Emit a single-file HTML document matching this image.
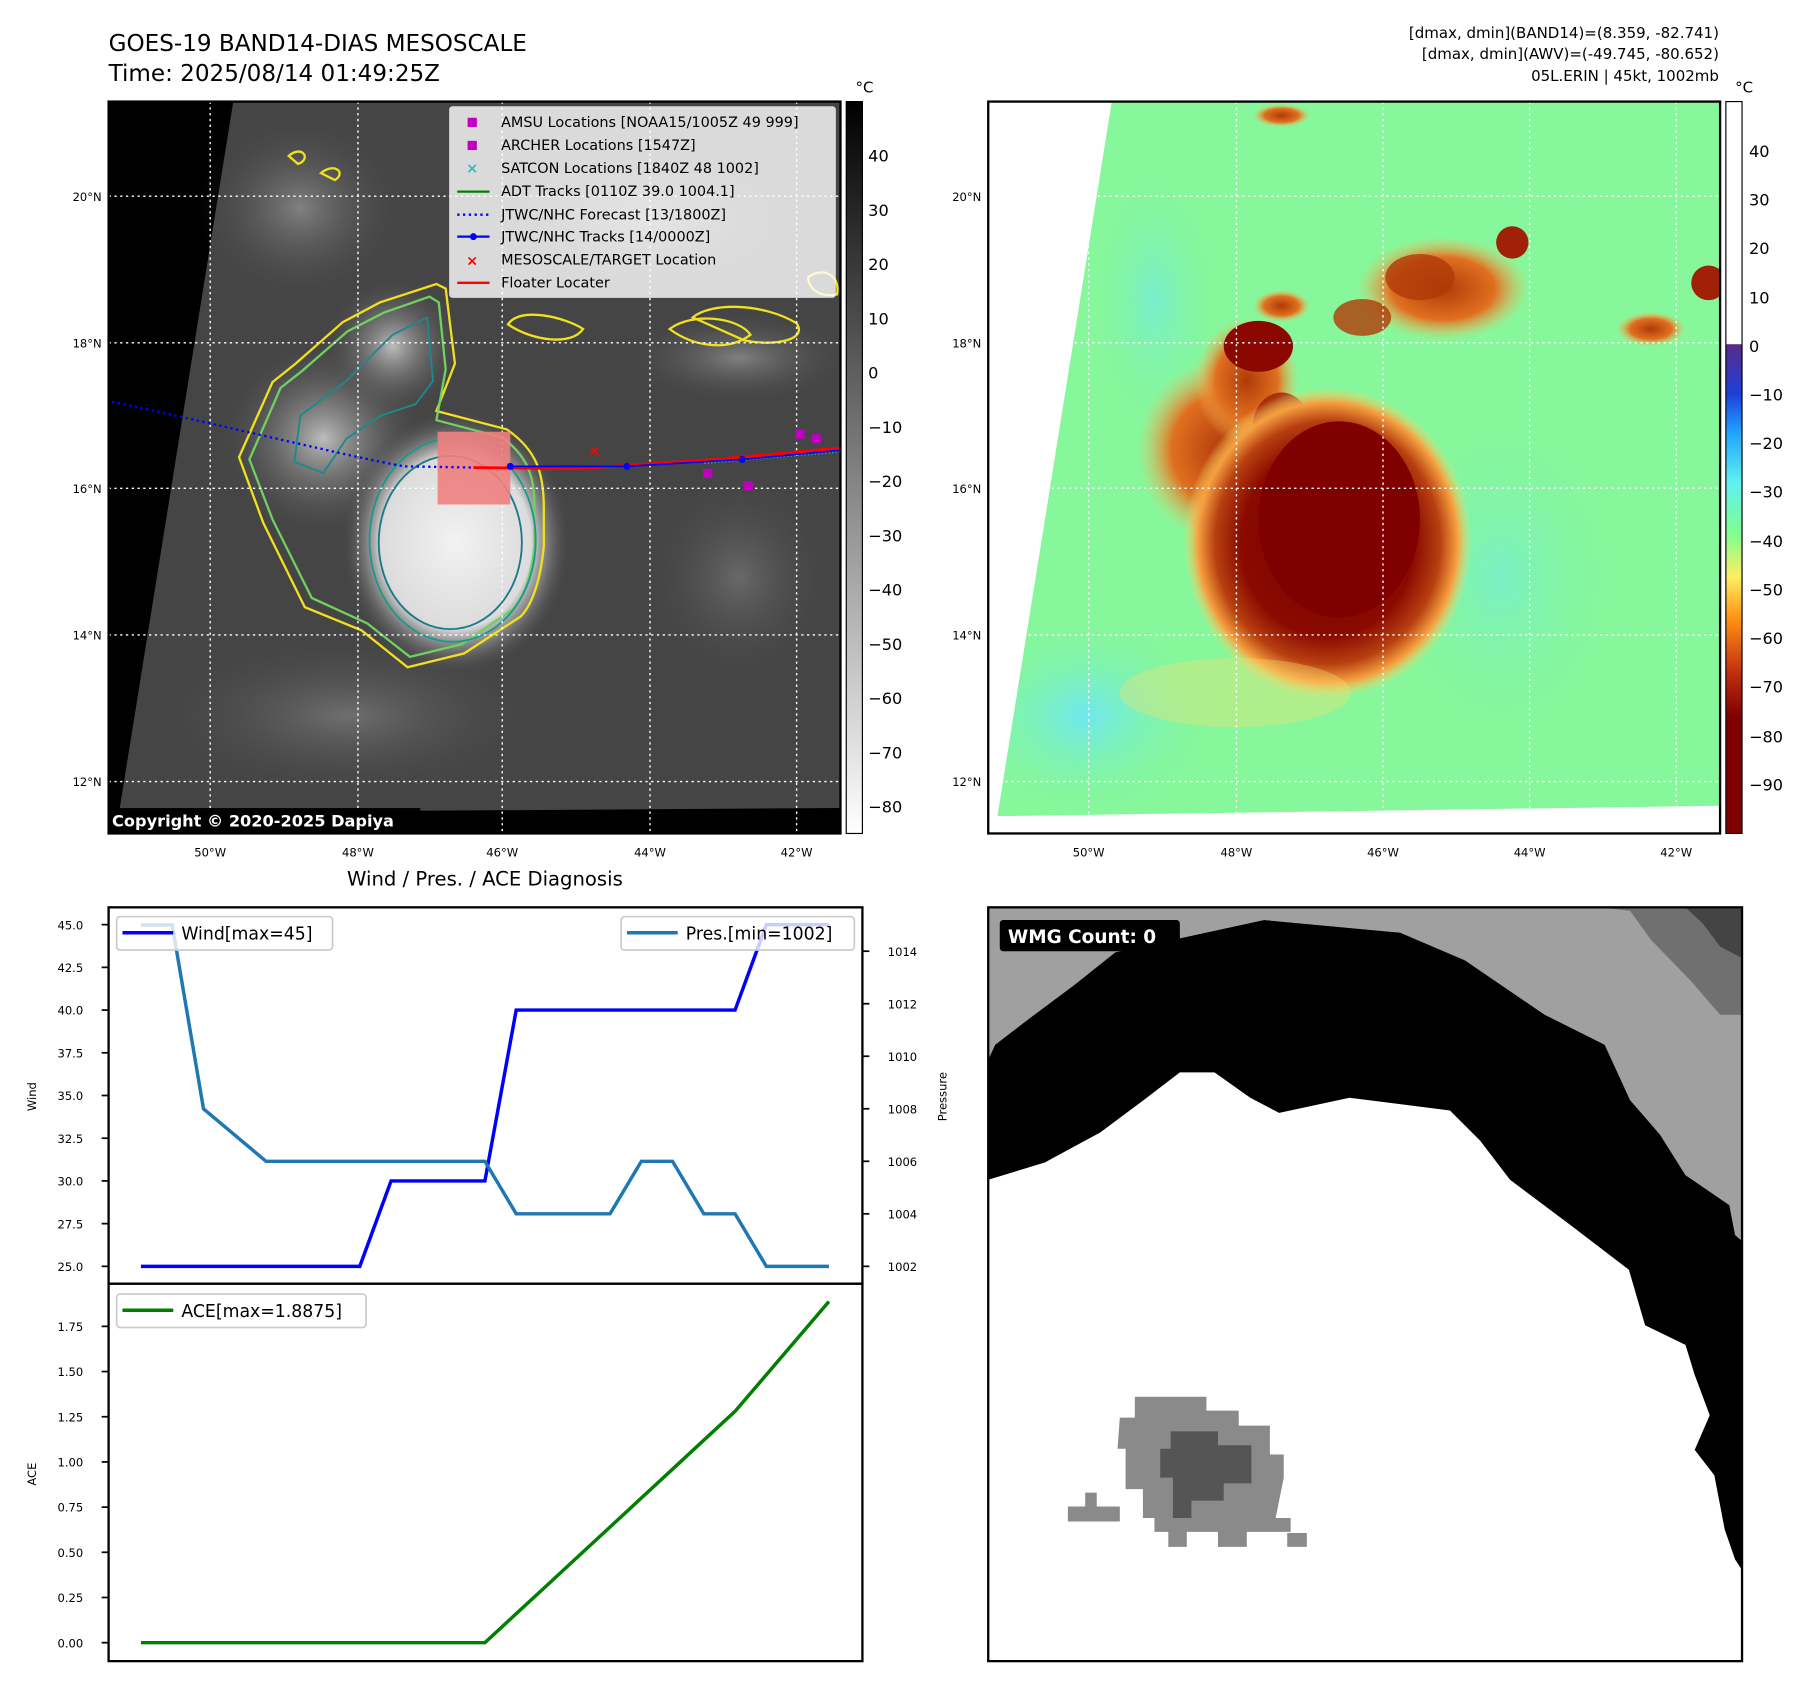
<!DOCTYPE html>
<html><head><meta charset="utf-8"><style>
html,body{margin:0;padding:0;background:#fff}
svg{display:block;font-family:"DejaVu Sans","Liberation Sans",sans-serif}
</style></head><body>
<svg id="root" width="1801" height="1690" viewBox="0 0 1560 1464" xmlns="http://www.w3.org/2000/svg">
<defs>
<linearGradient id="cbGray" x1="0" y1="0" x2="0" y2="1"><stop offset="0" stop-color="#000"/><stop offset="1" stop-color="#fff"/></linearGradient>
<linearGradient id="cbAwv" x1="0" y1="0" x2="0" y2="1">
<stop offset="0" stop-color="#fff"/><stop offset="0.331" stop-color="#fff"/><stop offset="0.332" stop-color="#5a2a8a"/>
<stop offset="0.40" stop-color="#1e40d8"/><stop offset="0.45" stop-color="#1ea0ff"/><stop offset="0.52" stop-color="#60f0f0"/>
<stop offset="0.59" stop-color="#80ff90"/><stop offset="0.65" stop-color="#ffee60"/><stop offset="0.71" stop-color="#ff8c10"/>
<stop offset="0.78" stop-color="#c03010"/><stop offset="0.84" stop-color="#800000"/><stop offset="1" stop-color="#800000"/></linearGradient>
<radialGradient id="cdo" cx="0.5" cy="0.5" r="0.5"><stop offset="0" stop-color="#f2f2f2"/><stop offset="0.65" stop-color="#dcdcdc"/><stop offset="1" stop-color="#444" stop-opacity="0"/></radialGradient>
<radialGradient id="cdoR" cx="0.5" cy="0.5" r="0.5"><stop offset="0" stop-color="#7a0000"/><stop offset="0.6" stop-color="#8a0a00"/><stop offset="0.78" stop-color="#b84010"/><stop offset="0.9" stop-color="#f5a040"/><stop offset="1" stop-color="#f8e070" stop-opacity="0"/></radialGradient>
<radialGradient id="bandR" cx="0.5" cy="0.5" r="0.5"><stop offset="0" stop-color="#b03a08"/><stop offset="0.6" stop-color="#e07020"/><stop offset="1" stop-color="#f8c060" stop-opacity="0"/></radialGradient>
<radialGradient id="bandG" cx="0.5" cy="0.5" r="0.5"><stop offset="0" stop-color="#bdbdbd"/><stop offset="1" stop-color="#4a4a4a" stop-opacity="0"/></radialGradient>
<radialGradient id="cyanG" cx="0.5" cy="0.5" r="0.5"><stop offset="0" stop-color="#6ee8f0"/><stop offset="1" stop-color="#86f79a" stop-opacity="0"/></radialGradient>
<clipPath id="clipL"><rect x="94" y="88" width="634" height="634"/></clipPath>
<clipPath id="clipR"><polygon points="963,88 1490,88 1490,698 864,707"/></clipPath>
</defs>

<!-- titles -->
<text x="94" y="44" font-size="20">GOES-19 BAND14-DIAS MESOSCALE</text>
<text x="94" y="70" font-size="20">Time: 2025/08/14 01:49:25Z</text>
<g font-size="13" text-anchor="end">
<text x="1489" y="33">[dmax, dmin](BAND14)=(8.359, -82.741)</text>
<text x="1489" y="51">[dmax, dmin](AWV)=(-49.745, -80.652)</text>
<text x="1489" y="70">05L.ERIN | 45kt, 1002mb</text>
</g>

<!-- LEFT MAP -->
<g clip-path="url(#clipL)">
<rect x="94" y="88" width="634" height="634" fill="#000"/>
<polygon points="202,88 728,88 728,700 103,704" fill="#454545"/>
<ellipse cx="260" cy="180" rx="90" ry="80" fill="url(#bandG)" opacity="0.5"/>
<ellipse cx="560" cy="190" rx="150" ry="70" fill="url(#bandG)" opacity="0.5"/>
<ellipse cx="640" cy="310" rx="100" ry="40" fill="url(#bandG)" opacity="0.5"/>
<ellipse cx="300" cy="620" rx="170" ry="70" fill="url(#bandG)" opacity="0.35"/>
<ellipse cx="640" cy="500" rx="80" ry="90" fill="url(#bandG)" opacity="0.3"/>
<ellipse cx="280" cy="380" rx="90" ry="85" fill="url(#bandG)"/>
<ellipse cx="340" cy="300" rx="60" ry="60" fill="url(#bandG)"/>
<ellipse cx="395" cy="470" rx="100" ry="115" fill="url(#cdo)"/>
<path d="M378,356 L439,372 C465,390 471,410 471,440 L471,473 C468,505 460,525 451,534 L402,566 L353,578 L313,546 L264,526 L228,453 L207,396 L236,331 L256,315 L297,279 L329,262 L378,246 L386,250 L394,315 Z" fill="none" stroke="#f0e020" stroke-width="2"/>
<path d="M378,364 L435,379 C458,396 463,414 463,440 L463,473 C460,502 452,520 444,528 L400,558 L355,569 L318,540 L270,518 L236,450 L216,398 L243,336 L262,321 L301,287 L332,271 L372,257 L380,262 L386,320 Z" fill="none" stroke="#70d060" stroke-width="2"/>
<path d="M340,290 L370,275 L375,330 L360,350 L330,360 L300,380 L280,410 L255,400 L260,360 L300,330 Z" fill="none" stroke="#1a8a8a" stroke-width="1.6"/>
<ellipse cx="390" cy="470" rx="62" ry="75" fill="none" stroke="#1a7a8a" stroke-width="1.6"/>
<ellipse cx="392" cy="468" rx="72" ry="88" fill="none" stroke="#1a9a8a" stroke-width="1.6"/>
<path d="M440,281 C450,265 490,275 505,285 C495,300 460,295 440,281 Z M580,285 C600,270 640,275 650,290 C630,305 600,300 580,285 Z M600,275 C615,262 660,262 690,280 C700,295 670,300 645,295 Z M250,135 C262,125 270,138 258,142 Z M278,150 C290,140 300,150 290,156 Z M700,240 C715,230 728,240 725,255 C710,258 700,250 700,240 Z" fill="none" stroke="#f0e020" stroke-width="2"/>
<!-- grid -->
<g stroke="#fff" stroke-dasharray="2,3" stroke-width="1.2">
<line x1="94" y1="170" x2="728" y2="170"/><line x1="94" y1="297" x2="728" y2="297"/><line x1="94" y1="423" x2="728" y2="423"/><line x1="94" y1="550" x2="728" y2="550"/><line x1="94" y1="677" x2="728" y2="677"/>
<line x1="182" y1="88" x2="182" y2="722"/><line x1="310" y1="88" x2="310" y2="722"/><line x1="435" y1="88" x2="435" y2="722"/><line x1="563" y1="88" x2="563" y2="722"/><line x1="690" y1="88" x2="690" y2="722"/>
</g>
<rect x="379" y="374" width="63" height="63" fill="#f08080" opacity="0.9"/>
<path d="M97,348 C200,370 300,395 350,404 L410,405" fill="none" stroke="#0000ff" stroke-width="2" stroke-dasharray="2,3"/>
<path d="M610,400 L728,390" stroke="#20c0c0" stroke-width="4" stroke-dasharray="1,2"/>
<path d="M410,405 L500,406 L620,398 L728,388" fill="none" stroke="#ff0000" stroke-width="2.5"/>
<path d="M442,404 L543,404 L643,398 L728,390" fill="none" stroke="#0000ff" stroke-width="1.5"/>
<g fill="#0000ff"><circle cx="442" cy="404" r="3"/><circle cx="543" cy="404" r="3"/><circle cx="643" cy="398" r="3"/></g>
<text x="515" y="395" fill="#ff0000" font-size="14" font-weight="bold" text-anchor="middle">×</text>
<g fill="#c000c0"><rect x="689" y="372" width="8" height="8"/><rect x="703" y="376" width="8" height="8"/><rect x="609" y="406" width="8" height="8"/><rect x="644" y="417" width="8" height="8"/></g>
<rect x="94" y="700" width="270" height="22" fill="#000"/>
<text x="97" y="716" fill="#fff" font-size="14" font-weight="bold">Copyright © 2020-2025 Dapiya</text>
</g>
<rect x="94" y="88" width="634" height="634" fill="none" stroke="#000" stroke-width="2"/>
<!-- legend -->
<g font-size="12.5">
<rect x="389" y="92" width="335" height="166" fill="#fff" opacity="0.8" rx="3"/>
<rect x="405" y="102" width="8" height="8" fill="#c000c0"/><text x="434" y="110">AMSU Locations [NOAA15/1005Z 49 999]</text>
<rect x="405" y="122" width="8" height="8" fill="#c000c0"/><text x="434" y="130">ARCHER Locations [1547Z]</text>
<text x="409" y="150" fill="#20c0c0" font-weight="bold" text-anchor="middle">×</text><text x="434" y="150">SATCON Locations [1840Z 48 1002]</text>
<line x1="396" y1="166" x2="424" y2="166" stroke="#008000" stroke-width="2"/><text x="434" y="170">ADT Tracks [0110Z 39.0 1004.1]</text>
<line x1="396" y1="186" x2="424" y2="186" stroke="#0000ff" stroke-width="2" stroke-dasharray="2,3"/><text x="434" y="190">JTWC/NHC Forecast [13/1800Z]</text>
<line x1="396" y1="205" x2="424" y2="205" stroke="#0000ff" stroke-width="2"/><circle cx="410" cy="205" r="3" fill="#0000ff"/><text x="434" y="209">JTWC/NHC Tracks [14/0000Z]</text>
<text x="409" y="230" fill="#ff0000" font-weight="bold" text-anchor="middle">×</text><text x="434" y="229">MESOSCALE/TARGET Location</text>
<line x1="396" y1="245" x2="424" y2="245" stroke="#ff0000" stroke-width="2"/><text x="434" y="249">Floater Locater</text>
</g>
<g font-size="10" text-anchor="end">
<text x="88" y="174">20°N</text><text x="88" y="301">18°N</text><text x="88" y="427">16°N</text><text x="88" y="554">14°N</text><text x="88" y="681">12°N</text>
</g>
<g font-size="10" text-anchor="middle">
<text x="182" y="742">50°W</text><text x="310" y="742">48°W</text><text x="435" y="742">46°W</text><text x="563" y="742">44°W</text><text x="690" y="742">42°W</text>
</g>
<g>
<rect x="733" y="88" width="14" height="634" fill="url(#cbGray)" stroke="#000" stroke-width="1"/>
<text x="741" y="80" font-size="13">°C</text>
<g font-size="14">
<text x="752" y="140">40</text><text x="752" y="187">30</text><text x="752" y="234">20</text><text x="752" y="281">10</text><text x="752" y="328">0</text>
<text x="752" y="375">−10</text><text x="752" y="422">−20</text><text x="752" y="469">−30</text><text x="752" y="516">−40</text><text x="752" y="563">−50</text><text x="752" y="610">−60</text><text x="752" y="657">−70</text><text x="752" y="704">−80</text>
</g></g>

<!-- RIGHT MAP -->
<rect x="856" y="88" width="634" height="634" fill="#fff"/>
<g clip-path="url(#clipR)">
<rect x="856" y="88" width="634" height="634" fill="#86f79a"/>
<ellipse cx="940" cy="620" rx="120" ry="90" fill="url(#cyanG)"/>
<ellipse cx="1000" cy="260" rx="60" ry="120" fill="url(#cyanG)" opacity="0.6"/>
<ellipse cx="1300" cy="500" rx="110" ry="150" fill="url(#cyanG)" opacity="0.5"/>
<ellipse cx="1060" cy="390" rx="75" ry="80" fill="url(#bandR)"/>
<ellipse cx="1080" cy="330" rx="45" ry="55" fill="url(#bandR)"/>
<ellipse cx="1090" cy="300" rx="30" ry="22" fill="#8a0800"/>
<ellipse cx="1110" cy="370" rx="25" ry="30" fill="#a02008" opacity="0.8"/>
<ellipse cx="1110" cy="265" rx="25" ry="14" fill="url(#bandR)"/>
<ellipse cx="1250" cy="250" rx="75" ry="45" fill="url(#bandR)"/>
<ellipse cx="1230" cy="240" rx="30" ry="20" fill="#b03a08" opacity="0.8"/>
<ellipse cx="1180" cy="275" rx="25" ry="16" fill="#b03a08" opacity="0.8"/>
<ellipse cx="1310" cy="210" rx="14" ry="14" fill="#a02008"/>
<ellipse cx="1430" cy="285" rx="30" ry="15" fill="url(#bandR)"/>
<ellipse cx="1480" cy="245" rx="15" ry="15" fill="#a02008"/>
<ellipse cx="1150" cy="470" rx="125" ry="135" fill="url(#cdoR)"/>
<ellipse cx="1160" cy="450" rx="70" ry="85" fill="#800000"/>
<ellipse cx="1110" cy="100" rx="25" ry="10" fill="url(#bandR)"/>
<ellipse cx="1070" cy="600" rx="100" ry="30" fill="#f8e070" opacity="0.35"/>
</g>
<g stroke="#fff" stroke-dasharray="2,3" stroke-width="1.2">
<line x1="856" y1="170" x2="1490" y2="170"/><line x1="856" y1="297" x2="1490" y2="297"/><line x1="856" y1="423" x2="1490" y2="423"/><line x1="856" y1="550" x2="1490" y2="550"/><line x1="856" y1="677" x2="1490" y2="677"/>
<line x1="943" y1="88" x2="943" y2="722"/><line x1="1071" y1="88" x2="1071" y2="722"/><line x1="1198" y1="88" x2="1198" y2="722"/><line x1="1325" y1="88" x2="1325" y2="722"/><line x1="1452" y1="88" x2="1452" y2="722"/>
</g>
<rect x="856" y="88" width="634" height="634" fill="none" stroke="#000" stroke-width="2"/>
<g font-size="10" text-anchor="end">
<text x="850" y="174">20°N</text><text x="850" y="301">18°N</text><text x="850" y="427">16°N</text><text x="850" y="554">14°N</text><text x="850" y="681">12°N</text>
</g>
<g font-size="10" text-anchor="middle">
<text x="943" y="742">50°W</text><text x="1071" y="742">48°W</text><text x="1198" y="742">46°W</text><text x="1325" y="742">44°W</text><text x="1452" y="742">42°W</text>
</g>
<g>
<rect x="1495" y="88" width="14" height="634" fill="url(#cbAwv)" stroke="#000" stroke-width="1"/>
<text x="1503" y="80" font-size="13">°C</text>
<g font-size="14">
<text x="1515" y="136">40</text><text x="1515" y="178">30</text><text x="1515" y="220">20</text><text x="1515" y="263">10</text><text x="1515" y="305">0</text>
<text x="1515" y="347">−10</text><text x="1515" y="389">−20</text><text x="1515" y="431">−30</text><text x="1515" y="474">−40</text><text x="1515" y="516">−50</text><text x="1515" y="558">−60</text><text x="1515" y="600">−70</text><text x="1515" y="643">−80</text><text x="1515" y="685">−90</text>
</g></g>

<!-- BOTTOM LEFT CHART -->
<text x="420" y="767" font-size="17" text-anchor="middle">Wind / Pres. / ACE Diagnosis</text>
<g id="chart"></g>

<!-- BOTTOM RIGHT -->
<g>
<rect x="856" y="786" width="653" height="653" fill="#fff"/>
<polygon points="856,786 1509,786 1509,1075 1503,1070 1498,1044 1460,1018 1438,983 1412,953 1390,905 1338,879 1269,832 1213,808 1095,797 966,825 931,853 896,879 862,905 856,918" fill="#a0a0a0"/>
<polygon points="1386,786 1509,786 1509,879 1490,879 1464,849 1430,814 1412,789" fill="#707070"/>
<polygon points="1460,786 1509,786 1509,830 1490,820 1475,800" fill="#444"/>
<polygon points="856,918 862,905 896,879 931,853 966,825 1095,797 1213,808 1269,832 1338,879 1390,905 1412,953 1438,983 1460,1018 1498,1044 1503,1070 1509,1075 1509,1360 1503,1351 1494,1325 1485,1278 1468,1256 1481,1226 1468,1191 1460,1165 1425,1148 1411,1100 1360,1061 1308,1022 1282,988 1256,962 1169,951 1108,964 1083,951 1052,929 1022,929 988,955 953,981 905,1007 856,1022" fill="#000"/>
<path d="M983,1210 L1045,1210 L1045,1222 L1073,1222 L1073,1235 L1100,1235 L1100,1260 L1112,1260 L1112,1280 L1105,1315 L1118,1315 L1118,1327 L1080,1327 L1080,1340 L1055,1340 L1055,1327 L1028,1327 L1028,1340 L1012,1340 L1012,1327 L1000,1327 L1000,1315 L990,1315 L990,1290 L975,1290 L975,1255 L968,1255 L970,1228 L983,1228 Z M925,1305 L940,1305 L940,1293 L950,1293 L950,1305 L970,1305 L970,1318 L925,1318 Z M1115,1328 L1132,1328 L1132,1340 L1115,1340 Z" fill="#8a8a8a"/>
<path d="M1014,1240 L1055,1240 L1055,1252 L1084,1252 L1084,1285 L1060,1285 L1060,1300 L1032,1300 L1032,1315 L1016,1315 L1016,1280 L1005,1280 L1005,1255 L1014,1255 Z" fill="#555"/>
<rect x="856" y="786" width="653" height="653" fill="none" stroke="#000" stroke-width="2"/>
<rect x="866" y="797" width="156" height="27" fill="#000" rx="3"/>
<text x="873" y="817" fill="#fff" font-size="16" font-weight="bold">WMG Count: 0</text>
</g>
</svg>
<script>
const windVals = [25,25,25,25,25,25,25,25,30,30,30,30,40,40,40,40,40,40,40,40,45,45,45];
const presVals = [1015,1015,1008,1007,1006,1006,1006,1006,1006,1006,1006,1006,1004,1004,1004,1004,1006,1006,1004,1004,1002,1002,1002];
const aceVals = [0,0,0,0,0,0,0,0,0,0,0,0,0.16,0.32,0.48,0.64,0.80,0.96,1.12,1.28,1.4825,1.685,1.8875];
const windTicks = [25.0,27.5,30.0,32.5,35.0,37.5,40.0,42.5,45.0];
const presTicks = [1002,1004,1006,1008,1010,1012,1014];
const aceTicks = [0.00,0.25,0.50,0.75,1.00,1.25,1.50,1.75];

const NS='http://www.w3.org/2000/svg';
const g=document.getElementById('chart');
const X0=94,X1=747,TOP=786,MID=1112,BOT=1439;
const xS=i=>122+i*(718-122)/(windVals.length-1);
const wS=v=>1097-(v-25)*(296/20);
const pS=v=>1097-(v-1002)*22.75;
const aS=v=>1423-v*(274/1.75);
function mk(tag,attrs,parent){const e=document.createElementNS(NS,tag);for(const k in attrs)e.setAttribute(k,attrs[k]);(parent||g).appendChild(e);return e;}
function txt(s,attrs){const e=mk('text',attrs);e.textContent=s;return e;}

const f1=mk('rect',{x:X0,y:TOP,width:X1-X0,height:MID-TOP,fill:'none',stroke:'#000','stroke-width':2});


const f2=mk('rect',{x:X0,y:MID,width:X1-X0,height:BOT-MID,fill:'none',stroke:'#000','stroke-width':2});



windTicks.forEach(v=>{
  const y=wS(v);
  mk('line',{x1:X0-6,y1:y,x2:X0,y2:y,stroke:'#000','stroke-width':1.5});
  const t=txt(v.toFixed(1),{x:X0-22,y:y+4,'font-size':10,'text-anchor':'end'});
  
  
});
presTicks.forEach(v=>{
  const y=pS(v);
  mk('line',{x1:X1,y1:y,x2:X1+6,y2:y,stroke:'#000','stroke-width':1.5});
  const t=txt(String(v),{x:X1+22,y:y+4,'font-size':10});
  
  
});
aceTicks.forEach(v=>{
  const y=aS(v);
  mk('line',{x1:X0-6,y1:y,x2:X0,y2:y,stroke:'#000','stroke-width':1.5});
  const t=txt(v.toFixed(2),{x:X0-22,y:y+4,'font-size':10,'text-anchor':'end'});
  
  
});
const yl1=txt('Wind',{x:0,y:0,'font-size':10,'text-anchor':'middle',transform:'translate(31,950) rotate(-90)'});


const yl2=txt('Pressure',{x:0,y:0,'font-size':10,'text-anchor':'middle',transform:'translate(820,950) rotate(-90)'});


const yl3=txt('ACE',{x:0,y:0,'font-size':10,'text-anchor':'middle',transform:'translate(31,1277) rotate(-90)'});



function pts(arr,yf){return arr.map((v,i)=>xS(i).toFixed(1)+','+yf(v).toFixed(1)).join(' ');}
const lw=mk('polyline',{points:pts(windVals,wS),fill:'none',stroke:'#0000ff','stroke-width':3});


const lp=mk('polyline',{points:pts(presVals,pS),fill:'none',stroke:'#1f77b4','stroke-width':3});


const la=mk('polyline',{points:pts(aceVals,aS),fill:'none',stroke:'#008000','stroke-width':3});



function legend(x,y,w,color,label,name){
  const b=mk('rect',{x:x,y:y,width:w,height:29,fill:'#fff','fill-opacity':0.8,stroke:'#ccc','stroke-width':1.5,rx:3});
  
  
  mk('line',{x1:x+5,y1:y+14,x2:x+49,y2:y+14,stroke:color,'stroke-width':3});
  txt(label,{x:x+56,y:y+20,'font-size':15});
}
legend(101,794,187,'#0000ff','Wind[max=45]','wind-legend');
legend(538,794,202,'#1f77b4','Pres.[min=1002]','pressure-legend');
legend(101,1121,216,'#008000','ACE[max=1.8875]','ace-legend');
</script>
</body></html>
